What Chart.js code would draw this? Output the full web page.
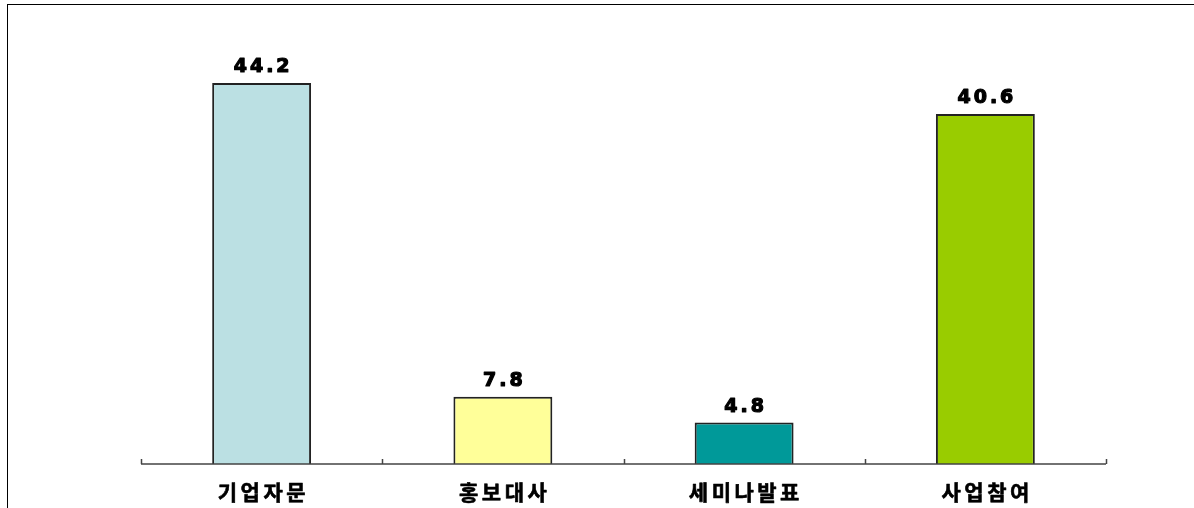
<!doctype html><html lang="ko"><head>
<meta charset="UTF-8"><title>chart</title>
<script src="https://cdn.jsdelivr.net/npm/chart.js@4"></script>
<style>
 body{margin:0;background:#fff}
 #wrap{position:relative;width:1194px;height:508px}
 #frame{position:absolute;left:7px;top:4px;right:0;bottom:0;border-top:1px solid #000;border-left:1px solid #000}
 canvas{position:absolute;left:0;top:0}
</style></head><body>
<div id="wrap"><div id="frame"></div><canvas id="c" width="1194" height="508"></canvas></div>
<script>
// ----- data -----
const categories = ['기업자문','홍보대사','세미나발표','사업참여'];
const values     = [44.2, 7.8, 4.8, 40.6];
const barColors  = ['#BBE0E3','#FFFF99','#009999','#99CC00'];

// axis line, upward ticks, value + category labels
const decor = {
  id:'decor',
  afterDatasetsDraw(chart){
    const {ctx, chartArea:a, scales:{x}} = chart;
    const step = x.getPixelForValue(1) - x.getPixelForValue(0);
    ctx.save();
    ctx.strokeStyle = '#444'; ctx.lineWidth = 1.5;
    ctx.beginPath();
    ctx.moveTo(a.left, a.bottom); ctx.lineTo(a.right, a.bottom);
    for(let i=0;i<=categories.length;i++){
      const px = Math.round(x.getPixelForValue(i) - step/2) + 0.5;
      ctx.moveTo(px, a.bottom); ctx.lineTo(px, a.bottom-5);
    }
    ctx.stroke();

    ctx.fillStyle = '#000'; ctx.strokeStyle = '#000'; ctx.textAlign = 'center';
    ctx.lineJoin = 'round';
    // value labels
    ctx.font = 'bold 19px "DejaVu Sans", sans-serif';
    ctx.letterSpacing = '3px';
    ctx.lineWidth = 1.2;
    chart.getDatasetMeta(0).data.forEach((bar,i)=>{
      ctx.textBaseline = 'bottom';
      const t = values[i].toFixed(1);
      ctx.fillText(t, bar.x + 1.5, bar.y - 6);
      ctx.strokeText(t, bar.x + 1.5, bar.y - 6);
    });
    // category labels
    ctx.font = 'bold 21px "Noto Sans CJK KR", sans-serif';
    ctx.letterSpacing = '3.5px';
    ctx.lineWidth = 0.6;
    ctx.textBaseline = 'middle';
    categories.forEach((c,i)=>{
      const px = x.getPixelForValue(i) + 1.75;
      ctx.fillText(c, px, a.bottom + 28);
      ctx.strokeText(c, px, a.bottom + 28);
    });
    ctx.restore();
  }
};

new Chart(document.getElementById('c'), {
  type:'bar',
  data:{labels:categories, datasets:[{
    data:values, backgroundColor:barColors, borderColor:'#222', borderWidth:2,
    categoryPercentage:1, barPercentage:0.41
  }]},
  options:{
    responsive:false, animation:false,
    layout:{padding:{left:141, right:88, top:33, bottom:44}},
    plugins:{legend:{display:false}, tooltip:{enabled:false}},
    scales:{
      x:{display:false},
      y:{display:false, min:0, max:50}
    }
  },
  plugins:[decor]
});
</script>
</body></html>
